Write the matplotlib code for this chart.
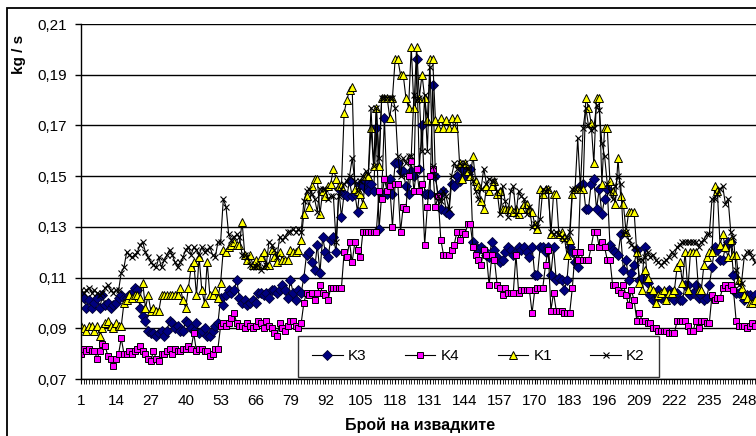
import matplotlib
matplotlib.use('Agg')
import matplotlib.pyplot as plt
from matplotlib.patches import Rectangle

plt.rcParams['font.family'] = ['Liberation Sans', 'DejaVu Sans']

# ---------------- data (values in thousandths of kg/s) ----------------
series_names = ['K3', 'K4', 'K1', 'K2']

k3_milli = [103, 102, 98, 101, 98, 100, 102, 98, 103, 99,
            100, 98, 99, 100, 102, 103, 102, 102, 103, 104,
            106, 105, 98, 95, 93, 89, 88, 88, 87, 88,
            89, 87, 89, 93, 92, 90, 91, 89, 89, 93,
            92, 90, 89, 92, 88, 89, 90, 87, 87, 89,
            91, 92, 102, 99, 103, 105, 104, 105, 109, 102,
            100, 101, 99, 100, 101, 100, 104, 104, 103, 104,
            102, 105, 105, 104, 105, 107, 105, 102, 109, 104,
            101, 105, 104, 110, 119, 120, 116, 113, 123, 112,
            126, 120, 118, 125, 126, 120, 145, 134, 143, 142,
            148, 142, 143, 136, 147, 146, 148, 144, 147, 144,
            169, 129, 143, 173, 143, 149, 143, 155, 155, 152,
            152, 146, 143, 152, 150, 196, 153, 170, 143, 143,
            143, 186, 150, 142, 137, 144, 136, 135, 147, 146,
            150, 148, 153, 150, 151, 153, 124, 122, 121, 122,
            121, 119, 118, 124, 121, 118, 116, 117, 120, 122,
            121, 119, 120, 122, 121, 122, 120, 118, 122, 111,
            111, 122, 122, 120, 122, 111, 122, 109, 110, 109,
            105, 109, 122, 120, 116, 114, 146, 147, 137, 137,
            147, 149, 137, 145, 135, 141, 145, 123, 121, 120,
            119, 127, 113, 117, 109, 112, 115, 121, 109, 110,
            122, 108, 103, 101, 102, 105, 102, 102, 102, 105,
            104, 101, 104, 101, 101, 107, 107, 103, 104, 107,
            102, 103, 101, 102, 107, 114, 122, 121, 117, 117,
            122, 124, 124, 111, 104, 104, 104, 101, 103, 103,
            102, 103]

k4_milli = [80, 82, 81, 82, 81, 81, 78, 81, 84, 83,
            79, 78, 75, 78, 80, 86, 80, 80, 81, 80,
            81, 82, 83, 81, 80, 78, 77, 81, 78, 77,
            80, 80, 81, 82, 80, 82, 81, 81, 82, 82,
            83, 82, 88, 81, 82, 82, 81, 81, 79, 80,
            82, 82, 91, 92, 91, 92, 94, 96, 92, 91,
            91, 90, 92, 91, 90, 91, 93, 92, 90, 93,
            91, 90, 88, 87, 92, 90, 89, 91, 93, 93,
            91, 90, 92, 100, 104, 103, 104, 101, 104, 107,
            104, 103, 101, 106, 106, 106, 106, 106, 120, 118,
            124, 116, 124, 121, 118, 128, 128, 128, 128, 128,
            128, 144, 141, 149, 144, 146, 130, 147, 147, 128,
            138, 137, 150, 156, 144, 153, 144, 147, 123, 138,
            150, 153, 138, 142, 125, 119, 119, 119, 121, 123,
            128, 125, 128, 127, 131, 131, 122, 119, 117, 115,
            121, 119, 107, 119, 117, 107, 106, 103, 106, 104,
            104, 104, 119, 104, 105, 105, 105, 105, 96, 105,
            106, 106, 106, 115, 121, 97, 104, 97, 97, 97,
            96, 96, 96, 106, 120, 117, 120, 117, 117, 117,
            122, 128, 128, 122, 124, 122, 117, 117, 107, 107,
            105, 104, 107, 103, 99, 105, 101, 93, 96, 93,
            93, 92, 92, 90, 90, 89, 89, 89, 89, 88,
            88, 88, 93, 93, 93, 93, 91, 89, 89, 93,
            90, 93, 93, 92, 92, 103, 101, 102, 102, 106,
            107, 106, 107, 105, 93, 91, 91, 91, 90, 91,
            92, 91]

k1_milli = [91, 90, 89, 91, 91, 89, 91, 87, 90, 92,
            93, 91, 90, 92, 91, 91, 100, 101, 103, 102,
            103, 103, 102, 108, 98, 103, 97, 98, 97, 97,
            103, 103, 103, 103, 103, 103, 103, 106, 101, 98,
            106, 114, 116, 103, 118, 105, 100, 116, 103, 103,
            105, 102, 108, 121, 120, 122, 123, 124, 123, 123,
            132, 119, 117, 119, 115, 117, 115, 118, 120, 115,
            115, 121, 118, 116, 120, 117, 117, 117, 121, 120,
            120, 121, 125, 135, 142, 138, 146, 149, 149, 135,
            144, 142, 146, 147, 153, 149, 146, 146, 175, 180,
            184, 185, 145, 144, 143, 139, 150, 150, 169, 154,
            177, 154, 181, 181, 181, 173, 181, 196, 196, 190,
            190, 181, 177, 201, 177, 201, 181, 190, 181, 172,
            196, 196, 172, 169, 173, 169, 172, 169, 173, 169,
            173, 155, 149, 155, 152, 150, 158, 148, 146, 140,
            137, 146, 144, 146, 148, 143, 144, 137, 137, 137,
            137, 136, 137, 135, 137, 139, 139, 137, 136, 131,
            129, 145, 143, 145, 145, 127, 143, 143, 127, 128,
            126, 119, 125, 143, 145, 145, 145, 145, 181, 177,
            171, 155, 181, 181, 147, 169, 169, 148, 144, 139,
            157, 142, 139, 128, 136, 136, 136, 120, 108, 105,
            113, 110, 106, 105, 100, 103, 104, 105, 101, 104,
            104, 105, 114, 116, 108, 120, 105, 120, 120, 120,
            105, 105, 115, 118, 120, 120, 146, 144, 123, 127,
            122, 118, 125, 119, 119, 109, 106, 103, 102, 100,
            100, 101]

k2_milli = [105, 104, 105, 106, 104, 105, 104, 103, 104, 106,
            107, 105, 104, 105, 105, 112, 114, 120, 119, 118,
            119, 120, 123, 124, 120, 118, 116, 115, 114, 118,
            114, 117, 119, 121, 119, 116, 114, 116, 118, 121,
            122, 119, 122, 121, 119, 122, 120, 121, 122, 119,
            118, 124, 124, 141, 138, 127, 125, 126, 127, 126,
            119, 119, 118, 115, 114, 114, 115, 113, 114, 115,
            124, 123, 121, 118, 126, 125, 126, 128, 128, 129,
            128, 129, 128, 140, 144, 145, 143, 141, 136, 145,
            145, 145, 141, 142, 142, 124, 142, 145, 147, 148,
            150, 157, 148, 144, 148, 150, 152, 151, 177, 154,
            177, 157, 181, 181, 181, 181, 181, 177, 158, 150,
            157, 155, 158, 158, 182, 180, 181, 160, 182, 160,
            193, 154, 150, 142, 140, 144, 142, 137, 150, 155,
            153, 155, 154, 155, 153, 151, 148, 144, 141, 145,
            153, 147, 149, 148, 148, 144, 135, 146, 140, 134,
            144, 146, 135, 144, 142, 141, 135, 138, 130, 131,
            130, 133, 145, 144, 145, 128, 127, 128, 127, 126,
            125, 126, 128, 145, 145, 165, 145, 169, 177, 170,
            168, 169, 178, 176, 163, 158, 147, 144, 141, 146,
            150, 147, 127, 128, 125, 123, 122, 121, 117, 117,
            118, 120, 118, 119, 117, 116, 115, 116, 117, 118,
            120, 119, 122, 123, 124, 124, 124, 124, 124, 124,
            122, 124, 125, 127, 127, 141, 141, 143, 145, 146,
            139, 141, 128, 126, 113, 107, 108, 118, 120, 120,
            118, 116]

y_ticks = [0.07, 0.09, 0.11, 0.13, 0.15, 0.17, 0.19, 0.21]
y_tick_labels = ['0,07', '0,09', '0,11', '0,13', '0,15', '0,17', '0,19', '0,21']
x_ticks = [1, 14, 27, 40, 53, 66, 79, 92, 105, 118, 131, 144, 157, 170,
           183, 196, 209, 222, 235, 248]
x_tick_labels = [str(t) for t in x_ticks]
y_title = 'kg / s'
x_title = 'Брой на извадките'

# ---------------- layout ----------------
W, H = 756, 436
fig = plt.figure(figsize=(W / 100, H / 100), dpi=100)
fig.patch.set_facecolor('white')

px_per_cat = 2.685
left_px, top_px, bottom_px = 81, 24, 379
x_max = 262
ax = fig.add_axes([left_px / W, (H - bottom_px) / H,
                   (x_max - 1) * px_per_cat / W, (bottom_px - top_px) / H])
ax.set_xlim(1, x_max)
ax.set_ylim(0.07, 0.21)

styles = {
    'K3': dict(marker='D', ms=4.8, mfc='#000080', mec='#000033', mew=0.6),
    'K4': dict(marker='s', ms=5.0, mfc='#FF00FF', mec='#000000', mew=0.7),
    'K1': dict(marker='^', ms=6.0, mfc='#FFFF00', mec='#000000', mew=0.7),
    'K2': dict(marker='x', ms=4.5, mfc='black', mec='black', mew=0.8),
}
data = {'K3': k3_milli, 'K4': k4_milli, 'K1': k1_milli, 'K2': k2_milli}

for z, name in enumerate(series_names):
    vals = [v / 1000.0 for v in data[name]]
    xs = list(range(1, len(vals) + 1))
    ax.plot(xs, vals, color='black', lw=0.8, label=name, zorder=3 + z,
            **styles[name])

# axes styling
for s in ['top', 'right']:
    ax.spines[s].set_visible(False)
for s in ['left', 'bottom']:
    ax.spines[s].set_color('black')
    ax.spines[s].set_linewidth(1.0)
    ax.spines[s].set_zorder(10)

ax.set_yticks(y_ticks)
ax.set_yticklabels(y_tick_labels)
ax.set_xticks(x_ticks)
ax.set_xticklabels(x_tick_labels)
ax.set_xticks(range(1, x_max + 1), minor=True)
ax.yaxis.grid(True, color='black', lw=1.0, zorder=1)
ax.set_axisbelow(True)
ax.tick_params(axis='y', direction='out', length=4, width=1, pad=6,
               labelsize=11, colors='black')
ax.tick_params(axis='x', which='major', direction='out', length=3.5, width=0.8,
               pad=7, labelsize=11, colors='black')
ax.tick_params(axis='x', which='minor', direction='out', length=3.5, width=0.6,
               colors='black')

# axis titles
fig.text(19 / W, 1 - 54 / H, y_title, rotation=90, fontsize=11,
         fontweight='bold', ha='center', va='center')
fig.text(420 / W, 1 - 425 / H, x_title, fontsize=11.5, fontweight='bold',
         ha='center', va='center')

# legend
leg = ax.legend(loc='center', bbox_to_anchor=(478.5 / W, 1 - 356.5 / H),
                bbox_transform=fig.transFigure, ncol=4, frameon=True,
                fancybox=False, edgecolor='black', fontsize=11,
                handlelength=2.0, handletextpad=0.35, columnspacing=2.5,
                borderpad=0.9, numpoints=1)
leg.get_frame().set_linewidth(1.0)
leg.set_zorder(20)

# outer chart border (its right and bottom sides lie outside the picture)
border_top = 1 - 8.5 / H
fig.patches.append(Rectangle((6.5 / W, -0.2), 1.2, border_top + 0.2,
                             transform=fig.transFigure, fill=False,
                             edgecolor='black', lw=1.3))

fig.savefig('out.png', dpi=100)
